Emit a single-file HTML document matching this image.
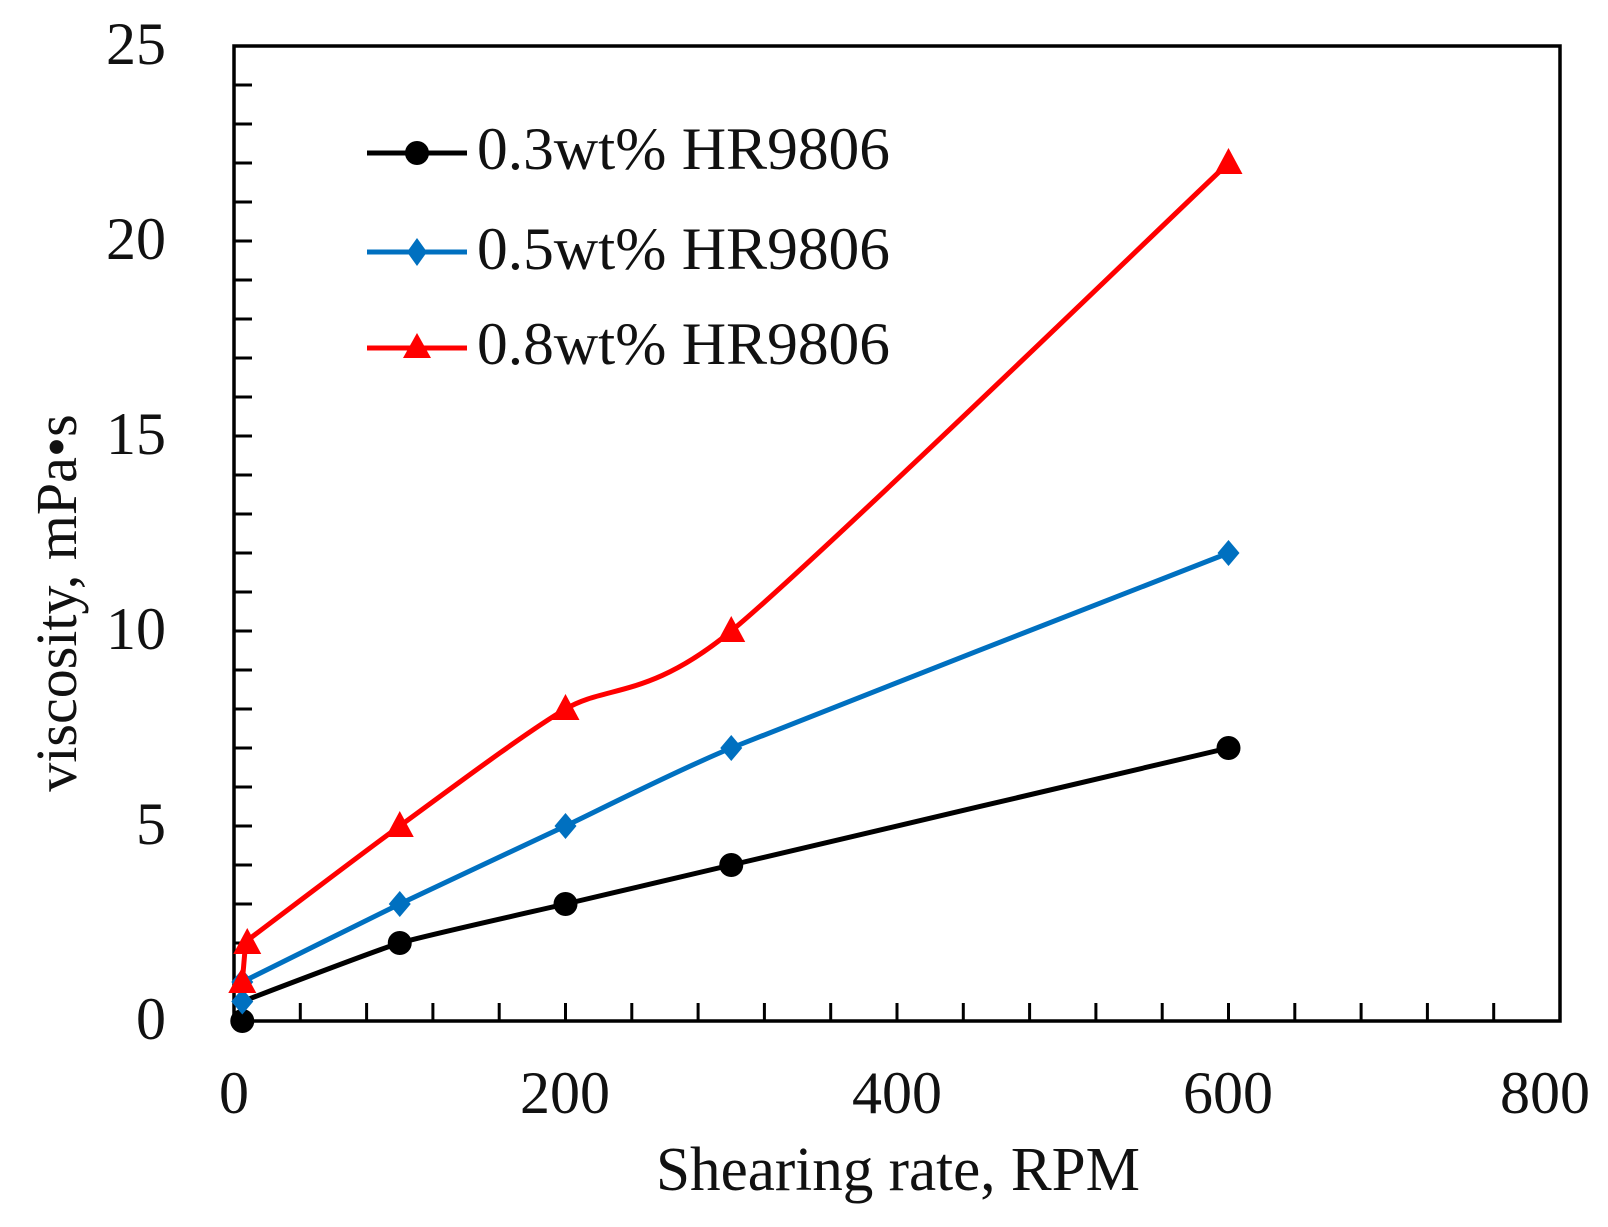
<!DOCTYPE html>
<html><head><meta charset="utf-8"><style>
html,body{margin:0;padding:0;background:#fff;}
svg{display:block;}
text{font-family:"Liberation Serif",serif;fill:#111;}
</style></head><body>
<svg id="s" width="1608" height="1227" viewBox="0 0 1608 1227" xmlns="http://www.w3.org/2000/svg">
<rect width="1608" height="1227" fill="#fff"/>
<g id="ticks" stroke="#000" stroke-width="3"></g>
<rect x="234" y="46" width="1326" height="975" fill="none" stroke="#000" stroke-width="3.5"/>
<g font-size="60" text-anchor="end">
<text x="166" y="64">25</text>
<text x="166" y="259">20</text>
<text x="166" y="454">15</text>
<text x="166" y="649">10</text>
<text x="166" y="844">5</text>
<text x="166" y="1039">0</text>
</g>
<g font-size="60" text-anchor="middle">
<text x="234" y="1113">0</text>
<text x="565" y="1113">200</text>
<text x="897" y="1113">400</text>
<text x="1228" y="1113">600</text>
<text x="1545" y="1113">800</text>
</g>
<text x="656" y="1190" font-size="62" textLength="484" lengthAdjust="spacingAndGlyphs">Shearing rate, RPM</text>
<text transform="translate(76,603) rotate(-90)" font-size="58" text-anchor="middle">viscosity, mPa•s</text>
<g id="series"></g>
<g>
<line x1="367" y1="153" x2="467" y2="153" stroke="#000" stroke-width="5"/>
<circle cx="417" cy="153" r="12" fill="#000"/>
<text x="477" y="169" font-size="60" textLength="413" lengthAdjust="spacingAndGlyphs">0.3wt% HR9806</text>
<line x1="367" y1="252" x2="467" y2="252" stroke="#0070c0" stroke-width="5"/>
<polygon points="417,238 427,252 417,266 407,252" fill="#0070c0"/>
<text x="477" y="269" font-size="60" textLength="413" lengthAdjust="spacingAndGlyphs">0.5wt% HR9806</text>
<line x1="367" y1="348" x2="467" y2="348" stroke="#f00" stroke-width="5"/>
<polygon points="417,333 431,358 403,358" fill="#f00"/>
<text x="477" y="364" font-size="60" textLength="413" lengthAdjust="spacingAndGlyphs">0.8wt% HR9806</text>
</g>
</svg>
<script>
function X(v){return 234+v*1.6575;}
function Y(v){return 1021-39*v;}
var t=document.getElementById("ticks"),h="";
for(var i=1;i<25;i++){var y=Y(i);h+='<line x1="234" y1="'+y+'" x2="252" y2="'+y+'"/>';}
for(var i=1;i<20;i++){var x=X(i*40);h+='<line x1="'+x+'" y1="1021" x2="'+x+'" y2="1003"/>';}
t.innerHTML=h;
function path(pts,k){
 var p=pts.map(function(a){return [X(a[0]),Y(a[1])];});
 var d="M"+p[0][0]+","+p[0][1];
 for(var i=0;i<p.length-1;i++){
  var p0=p[i-1]||p[i],p1=p[i],p2=p[i+1],p3=p[i+2]||p2;
  var c1=[p1[0]+(p2[0]-p0[0])/k,p1[1]+(p2[1]-p0[1])/k];
  var c2=[p2[0]-(p3[0]-p1[0])/k,p2[1]-(p3[1]-p1[1])/k];
  d+=" C"+c1+" "+c2+" "+p2;
 }
 return d;
}
var S=[
 {c:"#000",m:"o",k:14,line:[[5,0.5],[100,2],[200,3],[300,4],[600,7]],pts:[[5,0],[100,2],[200,3],[300,4],[600,7]]},
 {c:"#0070c0",m:"d",k:12,line:[[5,1],[100,3],[200,5],[300,7],[600,12]],pts:[[5,0.5],[5,1],[100,3],[200,5],[300,7],[600,12]]},
 {c:"#f00",m:"t",k:8,line:[[6,2],[100,5],[200,8],[300,10],[600,22]],pts:[[5,1],[8,2],[100,5],[200,8],[300,10],[600,22]]}
];
var g=document.getElementById("series"),out="";
S.forEach(function(s){
 out+='<path d="'+path(s.line,s.k)+'" fill="none" stroke="'+s.c+'" stroke-width="5" stroke-linejoin="round"/>';
 if(s.m=="t")out+='<line x1="'+X(5)+'" y1="'+Y(1)+'" x2="'+X(7)+'" y2="'+Y(2)+'" stroke="#f00" stroke-width="5"/>';
 s.pts.forEach(function(a){
  var x=X(a[0]),y=Y(a[1]);
  if(s.m=="o")out+='<circle cx="'+x+'" cy="'+y+'" r="12" fill="'+s.c+'"/>';
  else if(s.m=="d")out+='<polygon points="'+x+','+(y-13)+' '+(x+11)+','+y+' '+x+','+(y+13)+' '+(x-11)+','+y+'" fill="'+s.c+'"/>';
  else out+='<polygon points="'+x+','+(y-15)+' '+(x+14)+','+(y+11)+' '+(x-14)+','+(y+11)+'" fill="'+s.c+'"/>';
 });
});
g.innerHTML=out;
</script>
</body></html>
